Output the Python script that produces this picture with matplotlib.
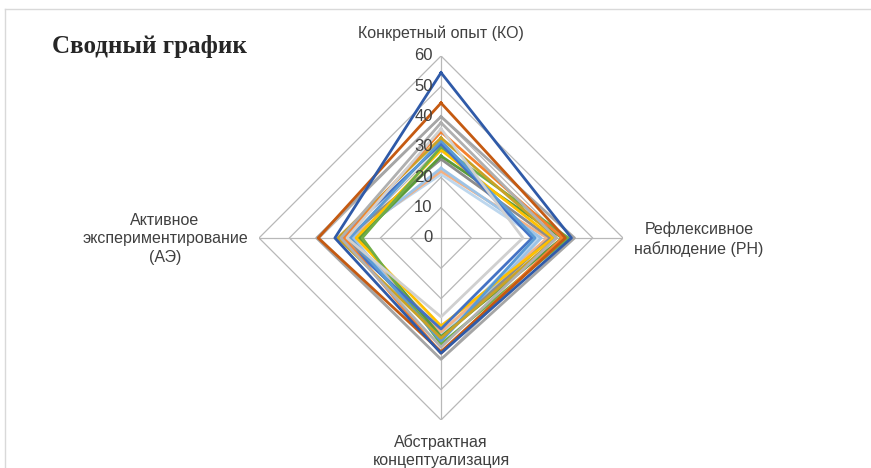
import numpy as np
import matplotlib
matplotlib.use("Agg")
import matplotlib.pyplot as plt
from matplotlib.lines import Line2D

# оси радара (по часовой стрелке от верха)
categories = ["Конкретный опыт (КО)", "Рефлексивное\nнаблюдение (РН)",
              "Абстрактная\nконцептуализация", "Активное\nэкспериментирование\n(АЭ)"]
ticks = [0, 10, 20, 30, 40, 50, 60]

# значения: [КО, РН, АК, АЭ]
s01 = [54.5, 43, 38, 35]
s02 = [44.5, 41, 37.5, 40.5]
s03 = [40, 44, 40, 41]
s04 = [38, 38, 36, 33]
s05 = [36, 27, 26, 31]
s06 = [35, 40, 38, 32]
s07 = [33, 38, 33, 34]
s08 = [32, 31, 34, 30]
s09 = [31, 30, 30, 33]
s10 = [30, 42, 35, 26]
s11 = [29, 37, 29, 28]
s12 = [27, 40, 32.5, 27]
s13 = [26, 36, 33, 31]
s14 = [23, 33, 34, 29]
s15 = [22, 35, 31, 30]
s16 = [21, 32, 32, 31]

series = [s16, s15, s14, s13, s12, s11, s10, s09, s08, s07, s06, s05, s04, s03, s02, s01]
colors = ["#BDD7EE", "#F4B183", "#9DC3E6", "#8C8C8C", "#5B9B3A", "#FFC000", "#70AD47",
          "#4472C4", "#5B9BD5", "#C9A227", "#F4812F", "#D0D0D0", "#B0B0B0", "#A5A5A5",
          "#C55A11", "#2F5AA8"]

fig = plt.figure(figsize=(8.71, 4.68), dpi=100)
ax = fig.add_axes([0.2974, 0.1026, 0.4179, 0.7778], projection="polar")
ax.set_theta_zero_location("N")
ax.set_theta_direction(-1)

angles = np.linspace(0, 2 * np.pi, len(categories), endpoint=False)
closed = np.append(angles, angles[0])

# сетка многоугольниками, как в Excel
grid_c = "#B8B8B8"
for r in ticks[1:]:
    ax.plot(closed, [r] * len(closed), color=grid_c, lw=0.9, zorder=1)
for a in angles:
    ax.plot([a, a], [0, 60], color=grid_c, lw=0.9, zorder=1)

for vals, c in zip(series, colors):
    ax.plot(closed, vals + vals[:1], color=c, lw=2.0, zorder=3)

ax.set_ylim(0, 60)
ax.grid(False)
ax.spines["polar"].set_visible(False)
ax.set_xticks([])
ax.set_yticks([])
ax.patch.set_visible(False)

for r in ticks:
    ax.text(0, r, str(r), ha="right", va="center", fontsize=12,
            family="Liberation Sans", color="#404040", zorder=4,
            transform=ax.transData + matplotlib.transforms.ScaledTranslation(-6 / 72, 0, fig.dpi_scale_trans))

lab = dict(fontsize=11.5, family="Liberation Sans", color="#404040", linespacing=1.3)
fig.text(441 / 871, 1 - 33 / 468, categories[0], ha="center", va="center", **lab)
fig.text(699 / 871, 1 - 239 / 468, categories[1], ha="center", va="center", **lab)
fig.text(441 / 871, 1 - 451 / 468, categories[2], ha="center", va="center", **lab)
fig.text(165 / 871, 1 - 239 / 468, categories[3], ha="center", va="center", **lab)

fig.text(52 / 871, 1 - 47 / 468, "Сводный график", ha="left", va="center",
         fontsize=18, fontweight="bold", family="Liberation Serif", color="#262626")

# рамка области диаграммы
fig.add_artist(Line2D([5 / 871, 1], [1 - 9 / 468, 1 - 9 / 468], color="#D9D9D9", lw=1))
fig.add_artist(Line2D([5 / 871, 5 / 871], [0, 1 - 9 / 468], color="#D9D9D9", lw=1))

fig.savefig("out.png", dpi=100)
